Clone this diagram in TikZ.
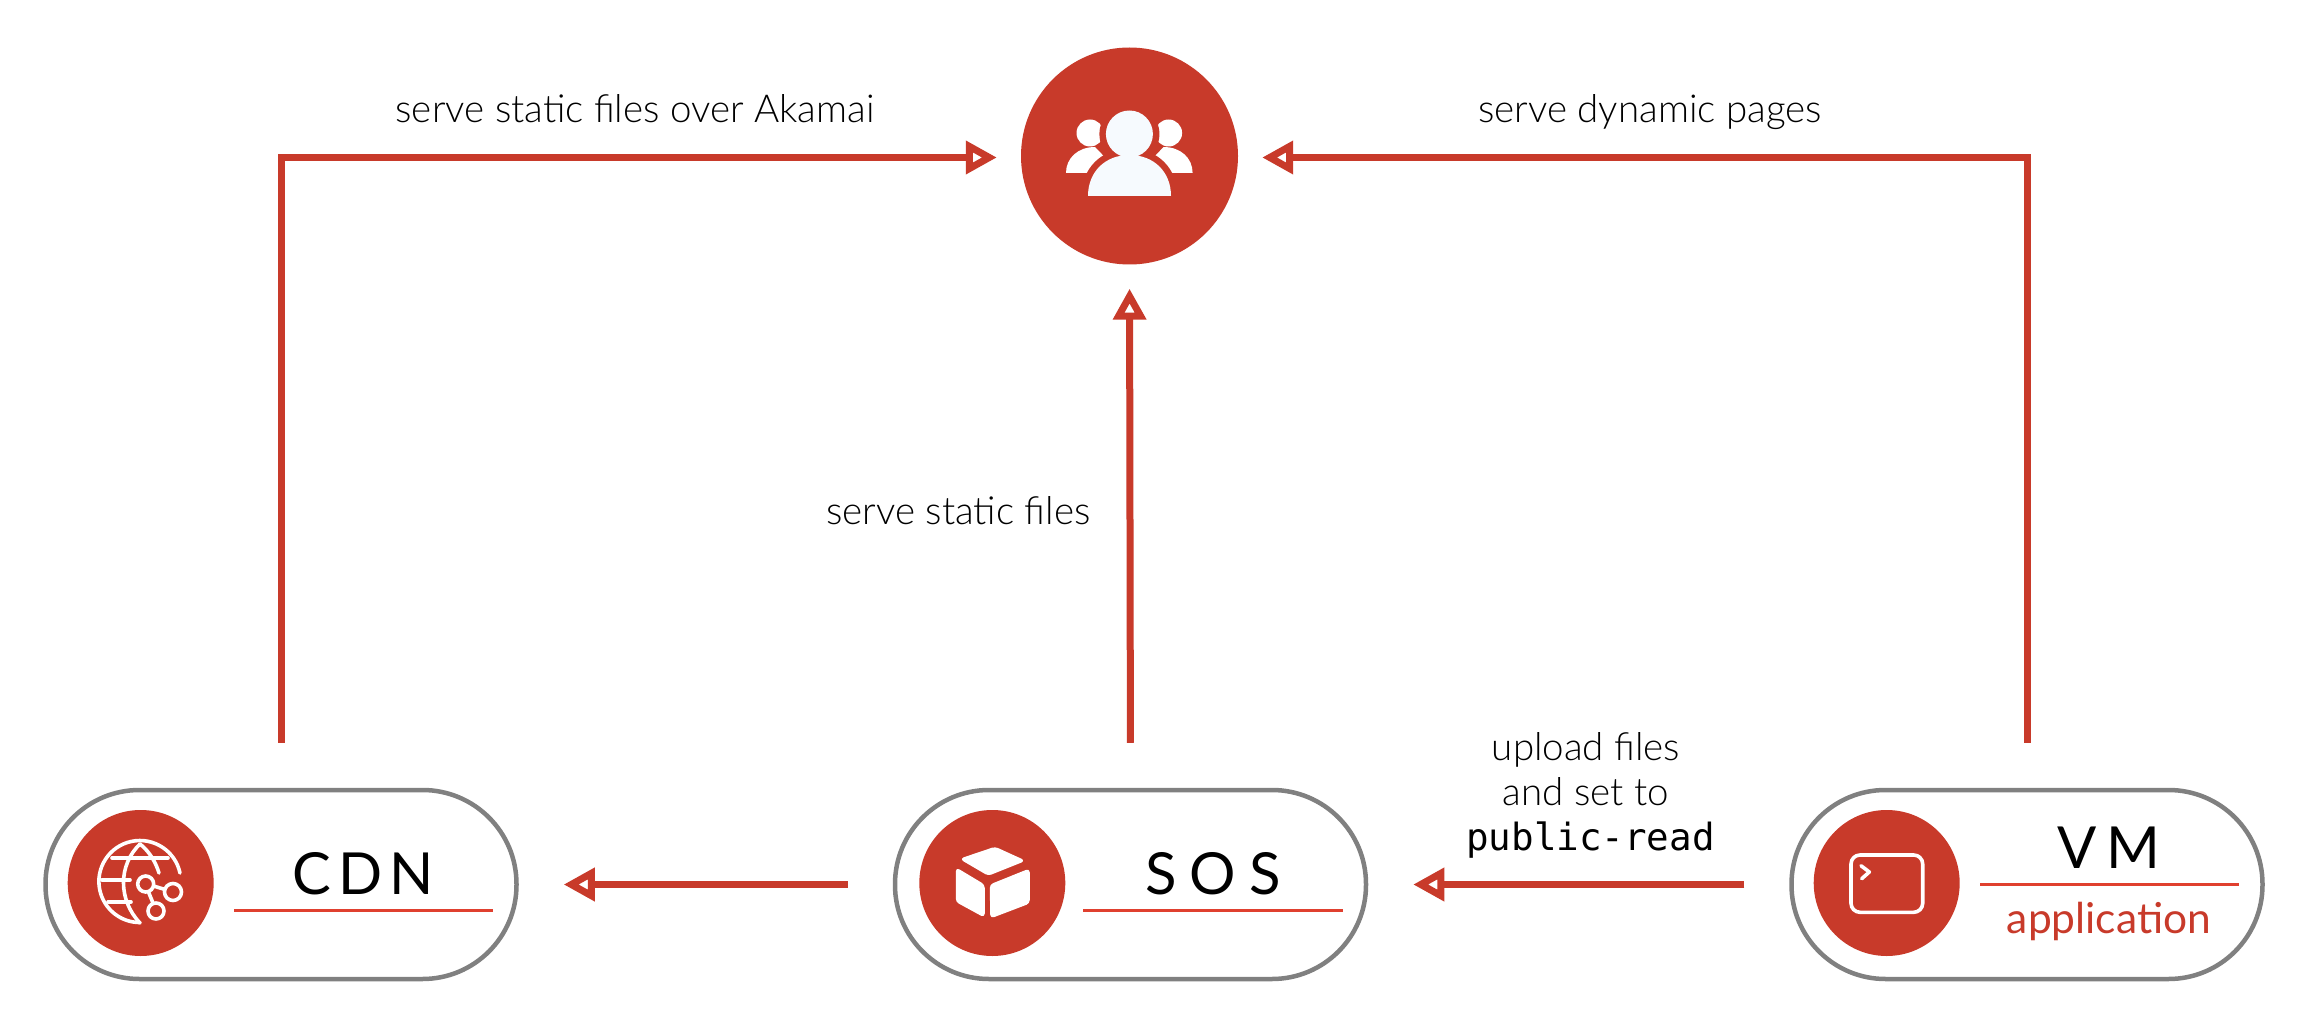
\documentclass[tikz,border=0pt]{standalone}
\usepackage{fontspec}
\setmainfont{Lato Light}
\newfontfamily\regfont{Lato}
\newfontfamily\monofont{DejaVu Sans Mono}
\usetikzlibrary{arrows.meta}
\definecolor{brand}{HTML}{C83A2A}
\definecolor{rulecol}{HTML}{E0402F}
\definecolor{pillgray}{HTML}{808080}
\definecolor{iconwhite}{HTML}{F6FAFE}
\newcommand\spacedtitle[2]{\setlength{\spaceskip}{#1}#2}
\tikzset{
  x=1pt,y=-1pt,
  pill/.style={draw=pillgray,line width=4.5pt,fill=white,rounded corners=94pt,minimum width=471pt,minimum height=189pt,inner sep=0pt},
  badge/.style={circle,fill=brand,minimum size=146pt,inner sep=0pt},
  bigbadge/.style={circle,fill=brand,minimum size=217pt,inner sep=0pt},
  conn/.style={draw=brand,line width=7pt,shorten <=45pt,
    -{Triangle[open,fill=white,length=31pt,width=32pt,line width=7pt]}},
  connnear/.style={conn,shorten >=24pt},
  connfar/.style={conn,shorten >=45pt},
  lab/.style={font=\fontsize{38.5}{38.5}\selectfont,anchor=base,inner sep=0pt,text=black},
  titlenode/.style={font=\regfont\fontsize{58}{58}\selectfont,anchor=base,inner sep=0pt,text=black},
  rulel/.style={draw=rulecol,line width=3pt},
  iconline/.style={draw=white,line width=3.6pt,line cap=round,line join=round},
  iconfill/.style={fill=white,draw=white,line width=1.5pt,line join=round,rounded corners=3pt},
}
\begin{document}
\begin{tikzpicture}
\useasboundingbox[fill=white] (0,0) rectangle (2300,1032);

% nodes
\node[bigbadge] (users) at (1129.5,156) {};
\node[pill] (cdn) at (281,884.5) {};
\node[pill] (sos) at (1130.5,884.5) {};
\node[pill] (vm) at (2027,884.5) {};
\node[badge] (cdnb) at (140.7,883) {};
\node[badge] (sosb) at (992.3,883) {};
\node[badge] (vmb) at (1886.7,883) {};

% connectors
\draw[connnear] (cdn.north) |- ([yshift=-1.5pt]users.west);
\draw[connnear] (vm.north) |- ([yshift=-1.5pt]users.east);
\draw[connnear] (sos.north) -- (users.south);
\draw[connfar] (sos.west) -- (cdn.east);
\draw[connfar] (vm.west) -- (sos.east);

% users icon
\foreach \sx/\dir in {1090/1,1168.6/-1}{
  \fill[white] (\sx,133) circle (13.5);
  \fill[white] (\sx-24*\dir,173) .. controls (\sx-24*\dir,158) and (\sx-12*\dir,147) .. (\sx+5*\dir,147)
     -- (\sx+30*\dir,173) -- cycle;
}
\fill[brand] (1129.4,134) circle (30);
\draw[brand,line width=13pt,line join=round,fill=brand] (1088,196) .. controls (1088,172) and (1105,155) .. (1129.4,155) .. controls (1154,155) and (1171,172) .. (1171,196) -- cycle;
\fill[iconwhite] (1129.4,134) circle (23.5);
\fill[iconwhite] (1088,196) .. controls (1088,172) and (1105,155) .. (1129.4,155) .. controls (1154,155) and (1171,172) .. (1171,196) -- cycle;

% globe icon
\draw[iconline] (180,873) arc (-12:-270:41);
\draw[iconline] (140,844) .. controls (118,865) and (118,900) .. (140,923);
\draw[iconline] (140,844) .. controls (150,852) and (156,863) .. (159,873);
\draw[iconline] (112,858) -- (168,858);
\draw[iconline] (102,880) -- (130,880);
\draw[iconline] (108,902) -- (131,902);
\draw[iconline] (145.7,884) circle (8);
\draw[iconline] (173,892) circle (8.5);
\draw[iconline] (156,911) circle (8);
\draw[iconline,line cap=butt] (153.5,886) -- (165,889.5);
\draw[iconline,line cap=butt] (148.5,892) -- (153,903);

% cube icon
\path[iconfill] (961,859) -- (995,847.5) -- (1024,860.7) -- (988.3,875) -- cycle;
\path[iconfill] (956.5,868.5) -- (984,885) -- (984,916.5) -- (956.5,901.5) -- cycle;
\path[iconfill] (990.5,885) -- (1029,869.5) -- (1029,903) -- (991,917.5) -- cycle;

% terminal icon
\draw[iconline,rounded corners=9pt] (1851,855) rectangle (1922.7,912.3);
\draw[iconline] (1861,865.7) -- (1869.3,872) -- (1861.7,878.7);

% titles
\node[titlenode] (cdnt) at (363,894) {\spacedtitle{7pt}{C D N}};
\node[titlenode] (sost) at (1213,894) {\spacedtitle{13pt}{S O S}};
\node[titlenode] (vmt) at (2109,868) {\spacedtitle{10pt}{V M}};
\node[font=\regfont\fontsize{42.5}{42.5}\selectfont,anchor=base,inner sep=0pt,text=brand] (vmapp) at (2109,933) {application};
\draw[rulel] (234,910) -- (493,910);
\draw[rulel] (1083,910) -- (1343,910);
\draw[rulel] (1980,884) -- (2239,884);

% labels
\node[lab] (l1) at (635,123) {serve static files over Akamai};
\node[lab] (l2) at (1650,123) {serve dynamic pages};
\node[lab] (l3) at (958.5,524) {serve static files};
\node[lab] (l4) at (1586,760) {upload files};
\node[lab] (l5) at (1586,805) {and set to};
\node[lab,font=\monofont\fontsize{37.5}{37.5}\selectfont] (l6) at (1590.5,850) {public-read};
\end{tikzpicture}
\end{document}
